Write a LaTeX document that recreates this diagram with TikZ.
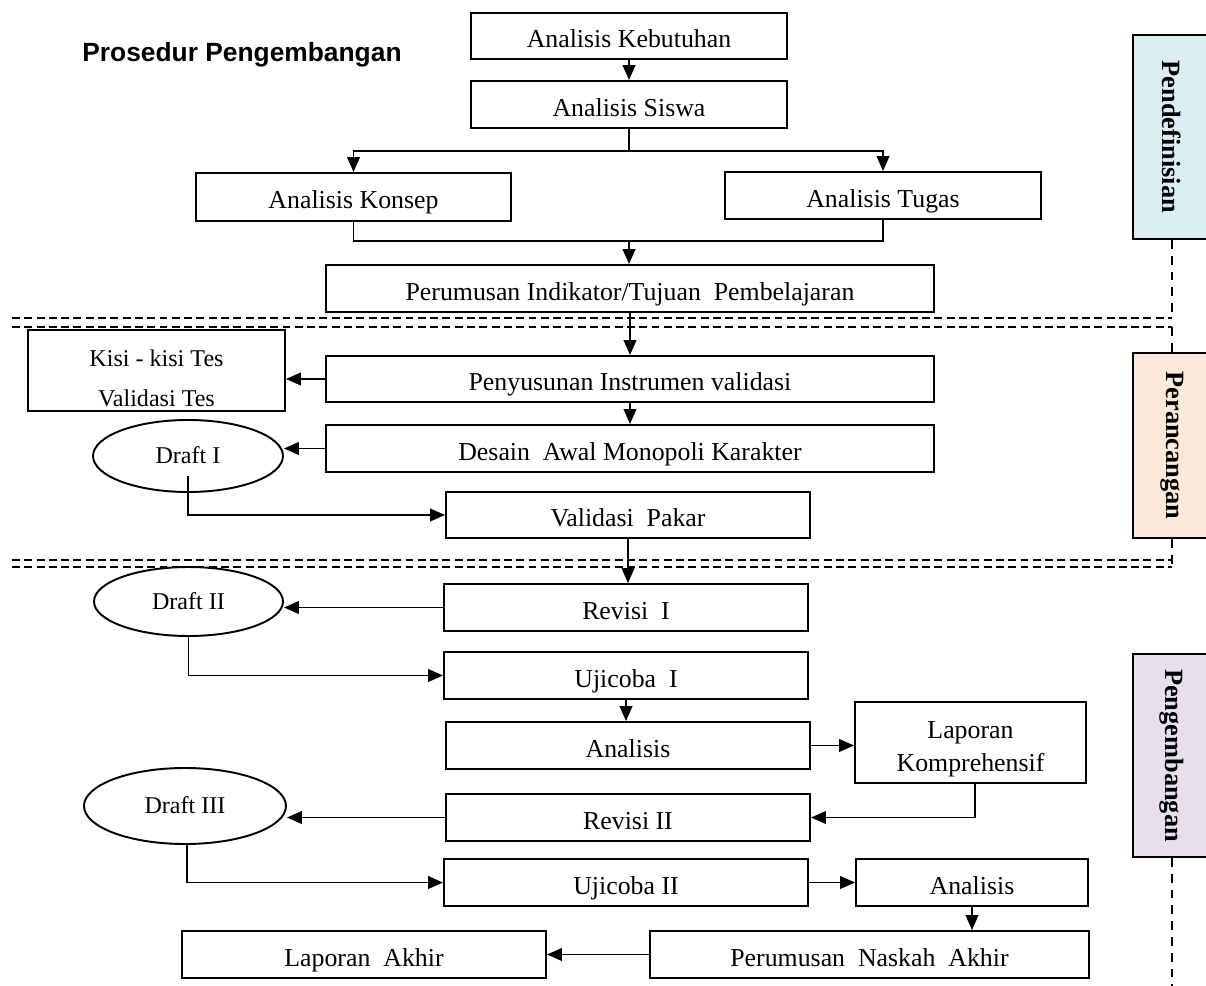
\documentclass[tikz,border=0pt]{standalone}
\usepackage{fontspec}
\setmainfont{Liberation Serif}
\newfontfamily\headfont{Liberation Sans}
\usetikzlibrary{arrows.meta,shapes.geometric}
\definecolor{defblue}{HTML}{DAEEF3}
\definecolor{desainpeach}{HTML}{FDE9D9}
\definecolor{devlilac}{HTML}{E5E0EC}

\begin{document}
\begin{tikzpicture}
  [x=0.02cm, y=-0.02cm, >={Triangle[length=8.5pt, width=7.2pt]},
   box/.style 2 args={draw, line width=1.1pt, inner sep=0pt,
     minimum width=#1*0.02cm, minimum height=#2*0.02cm,
     font=\fontsize{14.7}{17}\selectfont, text height=13.6pt, text depth=0pt},
   draft/.style 2 args={draw, ellipse, line width=1.1pt, inner sep=0pt,
     minimum width=#1*0.02cm, minimum height=#2*0.02cm,
     font=\fontsize{13.7}{16}\selectfont, text height=9pt, text depth=0pt},
   phase/.style={draw, line width=1.1pt, rotate=-90,
     minimum width=#1*0.02cm, minimum height=78*0.02cm,
     font=\bfseries\fontsize{15}{18}\selectfont},
   flow/.style={line width=1pt},
   sep line/.style={line width=1pt, dash pattern=on 4.5pt off 2.5pt},
   phase line/.style={line width=0.7pt, dash pattern=on 5pt off 4pt}]
  \useasboundingbox (0,0) rectangle (1206,986);
  \clip (0,0) rectangle (1206,986);

  \node[anchor=base, font=\headfont\bfseries\fontsize{15}{18}\selectfont]
    (title) at (242,62) {Prosedur Pengembangan};

  % pendefinisian
  \node[box={316}{46}] (kebutuhan) at (629,36) {Analisis Kebutuhan};
  \node[box={316}{47}] (siswa) at (629,104.5) {Analisis Siswa};
  \node[box={315}{48}] (konsep) at (353.5,197) {Analisis Konsep};
  \node[box={316}{47}] (tugas) at (883,195.5) {Analisis Tugas};
  \node[box={608}{47}] (indikator) at (630,288.5)
    {Perumusan Indikator/Tujuan\ \ Pembelajaran};

  % perancangan
  \node[box={257}{81}, font=\fontsize{13.7}{22.7}\selectfont,
    text height=0pt, text depth=4pt] (kisi) at (156.5,370.5)
    {\begin{tabular}[t]{@{}c@{}}Kisi - kisi Tes\\Validasi Tes\end{tabular}};
  \node[box={608}{46}] (penyusunan) at (630,379) {Penyusunan Instrumen validasi};
  \node[box={608}{47}] (desain) at (630,448.5) {Desain\ \ Awal Monopoli Karakter};
  \node[draft={190}{72}] (draft1) at (188,456) {Draft I};
  \node[box={364}{46}] (validasi) at (628,515) {Validasi\ \ Pakar};

  % pengembangan
  \node[box={364}{47}] (revisi1) at (626,607.5) {Revisi\ \ I};
  \node[draft={189}{69}] (draft2) at (188.5,601.5) {Draft II};
  \node[box={364}{47}] (ujicoba1) at (626,675.5) {Ujicoba\ \ I};
  \node[box={364}{47}] (analisis1) at (628,745.5) {Analisis};
  \node[box={231}{81}, font=\fontsize{14.7}{19.3}\selectfont,
    text height=0pt, text depth=5.1pt] (lapkomp) at (970.5,742.5)
    {\begin{tabular}[t]{@{}c@{}}Laporan\\Komprehensif\end{tabular}};
  \node[box={364}{47}] (revisi2) at (628,817.5) {Revisi II};
  \node[draft={202}{76}] (draft3) at (185,806) {Draft III};
  \node[box={364}{47}] (ujicoba2) at (626,882.5) {Ujicoba II};
  \node[box={232}{47}] (analisis2) at (972,882.5) {Analisis};
  \node[box={439}{47}] (naskah) at (869.5,954.5) {Perumusan\ \ Naskah\ \ Akhir};
  \node[box={364}{47}] (lapakhir) at (364,954.5) {Laporan\ \ Akhir};

  % tahap (rotated: west is the top, east the bottom)
  \node[phase=204, fill=defblue] (pendef) at (1172,137) {Pendefinisian};
  \node[phase=185, fill=desainpeach] (peranc) at (1172,445.5) {Perancangan};
  \node[phase=203, fill=devlilac] (pengemb) at (1172,755.5) {Pengembangan};

  \coordinate (split) at (629,151);
  \coordinate (merge) at (629,241);
  \draw[flow, ->] (kebutuhan.south) -- (siswa.north);
  \draw[flow] (siswa.south) -- (split);
  \draw[flow, ->] (split) -| (konsep.north);
  \draw[flow, ->] (split) -| (tugas.north);
  \draw[flow] (konsep.south) |- (merge);
  \draw[flow] (tugas.south) |- (merge);
  \draw[flow, ->] (merge) -- (merge |- indikator.north);
  \draw[flow, ->] (indikator.south) -- (penyusunan.north);
  \draw[flow, ->] (penyusunan.west) -- (penyusunan.west -| kisi.east);
  \draw[flow, ->] (penyusunan.south) -- (desain.north);
  \draw[flow, ->] (desain.west) -- (desain.west -| draft1.east);
  \draw[flow, ->] ([yshift=-0.4cm]draft1.center) |- (validasi.west);
  \draw[flow, ->] (validasi.south) -- (validasi.south |- revisi1.north);
  \draw[flow, ->] (revisi1.west) -- (revisi1.west -| draft2.east);
  \draw[flow, ->] (draft2.south) |- (ujicoba1.west);
  \draw[flow, ->] (ujicoba1.south) -- (ujicoba1.south |- analisis1.north);
  \draw[flow, ->] (analisis1.east) -- (analisis1.east -| lapkomp.west);
  \draw[flow, ->] ([xshift=0.09cm]lapkomp.south) |- (revisi2.east);
  \draw[flow, ->] (revisi2.west) -- (revisi2.west -| draft3.east);
  \draw[flow, ->] ([xshift=0.04cm]draft3.south) |- (ujicoba2.west);
  \draw[flow, ->] (ujicoba2.east) -- (ujicoba2.east -| analisis2.west);
  \draw[flow, ->] (analisis2.south) -- (analisis2.south |- naskah.north);
  \draw[flow, ->] (naskah.west) -- (naskah.west -| lapakhir.east);

  % garis batas tahap
  \coordinate (sepA) at (12,318);
  \coordinate (sepB) at (12,327);
  \coordinate (sepC) at (12,560);
  \coordinate (sepD) at (12,567);
  \coordinate (pagebottom) at (1169,990);
  \draw[sep line] (sepA) -- (sepA -| pendef.east);
  \draw[sep line] (sepB) -- (sepB -| peranc.west);
  \draw[sep line] (sepC) -- (sepC -| peranc.east);
  \draw[sep line] (sepD) -- (sepD -| pengemb.west);
  \draw[phase line] (pendef.east) -- (pendef.east |- sepA);
  \draw[phase line] (sepB -| peranc.west) -- (peranc.west);
  \draw[phase line] (peranc.east) -- (peranc.east |- sepD);
  \draw[phase line] (pengemb.east) -- (pengemb.east |- pagebottom);
\end{tikzpicture}
\end{document}
